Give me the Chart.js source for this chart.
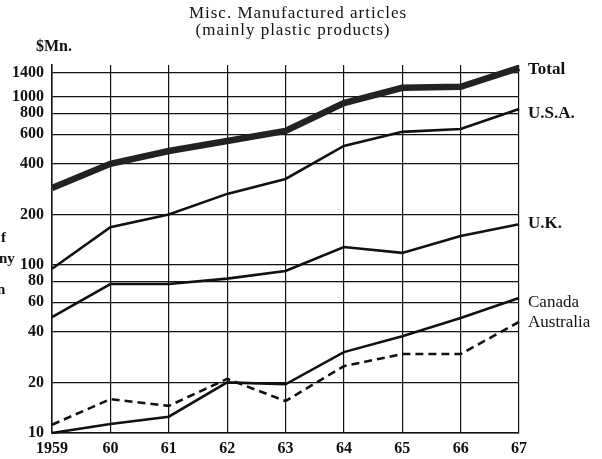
<!DOCTYPE html>
<html>
<head>
<meta charset="utf-8">
<script src="https://cdn.jsdelivr.net/npm/chart.js@4/dist/chart.umd.min.js"></script>
<style>
  body { margin: 0; background: #fff; }
  canvas { display: block; }
</style>
</head>
<body>
<canvas id="myChart" width="602" height="459"></canvas>
<script>
// years on x axis
const years = ['1959', '60', '61', '62', '63', '64', '65', '66', '67'];

// $Mn.
const totalValues = [287, 400, 477, 547, 628, 921, 1133, 1150, 1490];
const usaValues = [95, 168, 200, 265, 325, 511, 620, 645, 849];
const ukValues = [49, 77, 77, 83, 92, 128, 118, 149, 175];
const canadaValues = [10, 11.3, 12.5, 20, 19.5, 30.3, 37.7, 48.4, 63.7];
const australiaValues = [11.2, 15.9, 14.5, 21, 15.5, 25, 29.5, 29.5, 45.8];

const yTicks = [10, 20, 40, 60, 80, 100, 200, 400, 600, 800, 1000, 1400];
const seriesNames = ['Total', 'U.S.A.', 'U.K.', 'Canada', 'Australia'];

const serif = "'Liberation Serif', 'DejaVu Serif', serif";

// labels at the right end of each line + title texts
const textPlugin = {
    id: 'texts',
    afterDraw(chart) {
        const ctx = chart.ctx;
        const area = chart.chartArea;
        const y = chart.scales.y;
        ctx.save();
        ctx.fillStyle = '#111';
        ctx.textBaseline = 'middle';

        // title
        ctx.textAlign = 'center';
        ctx.font = '17px ' + serif;
        ctx.letterSpacing = '1px';
        ctx.fillText('Misc. Manufactured articles', 298, 14);
        ctx.fillText('(mainly plastic products)', 293, 31);
        ctx.letterSpacing = '0px';

        // unit
        ctx.textAlign = 'left';
        ctx.font = 'bold 16px ' + serif;
        ctx.fillText('$Mn.', 36, 47);

        // series names
        let lastVals = [totalValues, usaValues, ukValues, canadaValues, australiaValues];
        let offsets = [2, 5, -1, 5, 1];
        let bold = [true, true, true, false, false];
        seriesNames.forEach((name, i) => {
            let v = lastVals[i][lastVals[i].length - 1];
            ctx.font = (bold[i] ? 'bold ' : '') + '17px ' + serif;
            ctx.fillText(name, area.right + 9, y.getPixelForValue(v) + offsets[i]);
        });

        // cut-off words from the page edge
        ctx.font = 'bold 15px ' + serif;
        ctx.fillText('f', 1, 238);
        ctx.fillText('ny', -1, 259);
        ctx.fillText('n', -3, 290);
        ctx.restore();
    }
};

const lineBase = {
    fill: false,
    pointRadius: 0,
    tension: 0,
    clip: false
};

new Chart('myChart', {
    type: 'line',
    data: {
        labels: years,
        datasets: [
            { ...lineBase, label: 'Total edge', data: totalValues, borderColor: '#222', borderWidth: 6.5 },
            { ...lineBase, label: 'Total', data: totalValues, borderColor: '#8c8c8c', borderWidth: 3.5 },
            { ...lineBase, label: 'U.S.A.', data: usaValues, borderColor: '#111', borderWidth: 2.6 },
            { ...lineBase, label: 'U.K.', data: ukValues, borderColor: '#111', borderWidth: 2.6 },
            { ...lineBase, label: 'Canada', data: canadaValues, borderColor: '#111', borderWidth: 2.6 },
            { ...lineBase, label: 'Australia', data: australiaValues, borderColor: '#111', borderWidth: 2.6, borderDash: [8, 5] }
        ]
    },
    options: {
        responsive: false,
        animation: false,
        layout: {
            padding: { top: 65, right: 83, left: 0, bottom: 0 }
        },
        scales: {
            x: {
                type: 'category',
                offset: false,
                grid: {
                    color: '#111',
                    lineWidth: 1.2,
                    drawTicks: false
                },
                border: { color: '#111', width: 1.5 },
                ticks: {
                    color: '#111',
                    padding: 6,
                    maxRotation: 0,
                    font: { family: serif, size: 16, weight: 'bold' }
                },
                afterFit(scale) { scale.height = 26; }
            },
            y: {
                type: 'logarithmic',
                min: 10,
                max: 1550,
                grid: {
                    color: '#111',
                    lineWidth: 1.2,
                    drawTicks: false
                },
                border: { color: '#111', width: 1.5 },
                afterBuildTicks(scale) {
                    scale.ticks = yTicks.map(v => ({ value: v }));
                },
                ticks: {
                    color: '#111',
                    padding: 8,
                    autoSkip: false,
                    font: { family: serif, size: 16, weight: 'bold' },
                    callback: (v) => String(v)
                },
                afterFit(scale) { scale.width = 52; }
            }
        },
        plugins: {
            legend: { display: false },
            tooltip: { enabled: false }
        }
    },
    plugins: [textPlugin]
});
</script>
</body>
</html>
